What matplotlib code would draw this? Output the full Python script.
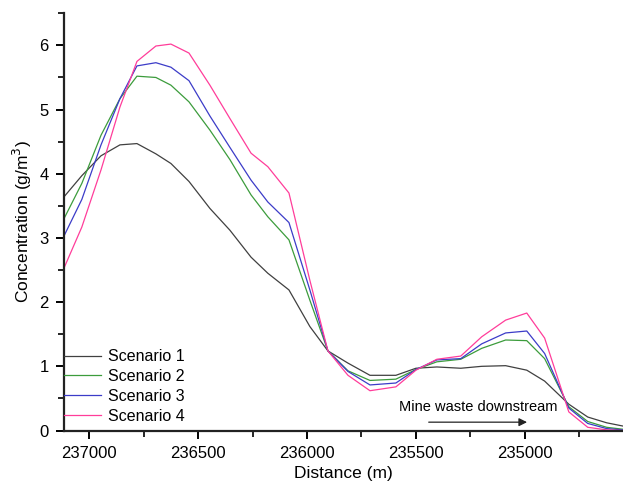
import matplotlib.pyplot as plt
from matplotlib.ticker import MultipleLocator

plt.rcParams['font.family'] = ['Liberation Sans', 'DejaVu Sans']

# distance along river (m)
dist = [237116, 237034, 236946, 236859, 236781, 236694, 236625, 236542, 236446,
        236354, 236257, 236180, 236083, 235987, 235904, 235812, 235711, 235592,
        235500, 235404, 235294, 235198, 235088, 234991, 234909, 234798, 234711,
        234624, 234550]

sc1 = [3.64, 3.97, 4.28, 4.45, 4.47, 4.31, 4.16, 3.88, 3.46, 3.12, 2.70, 2.45,
       2.19, 1.62, 1.24, 1.05, 0.86, 0.86, 0.97, 0.99, 0.97, 1.00, 1.01, 0.94,
       0.77, 0.41, 0.21, 0.12, 0.07]
sc2 = [3.30, 3.85, 4.60, 5.17, 5.52, 5.50, 5.38, 5.12, 4.68, 4.22, 3.67, 3.33,
       2.97, 2.03, 1.24, 0.93, 0.78, 0.80, 0.95, 1.07, 1.11, 1.28, 1.41, 1.40,
       1.12, 0.37, 0.14, 0.05, 0.02]
sc3 = [3.03, 3.60, 4.45, 5.17, 5.68, 5.73, 5.66, 5.45, 4.90, 4.41, 3.90, 3.56,
       3.24, 2.19, 1.24, 0.92, 0.71, 0.74, 0.95, 1.10, 1.12, 1.35, 1.52, 1.55,
       1.20, 0.35, 0.11, 0.03, 0.01]
sc4 = [2.53, 3.17, 4.06, 5.04, 5.75, 5.99, 6.02, 5.88, 5.38, 4.86, 4.32, 4.11,
       3.70, 2.34, 1.24, 0.86, 0.62, 0.68, 0.94, 1.11, 1.16, 1.46, 1.72, 1.83,
       1.44, 0.29, 0.05, 0.01, 0.00]

names = ['Scenario 1', 'Scenario 2', 'Scenario 3', 'Scenario 4']
colors = ['#404040', '#3c9c3c', '#3c3cc8', '#ff3d9a']

fig = plt.figure(figsize=(6.23, 4.88), dpi=100)
ax = fig.add_axes([0.1027, 0.1178, 0.897, 0.855])

for y, n, c in zip([sc1, sc2, sc3, sc4], names, colors):
    ax.plot(dist, y, color=c, lw=0.9, label=n)

ax.set_xlim(237116, 234550)
ax.set_ylim(0, 6.5)
ax.xaxis.set_major_locator(MultipleLocator(500))
ax.xaxis.set_minor_locator(MultipleLocator(250))
ax.yaxis.set_major_locator(MultipleLocator(1))
ax.yaxis.set_minor_locator(MultipleLocator(0.5))

for s in ['top', 'right']:
    ax.spines[s].set_visible(False)
for s in ['left', 'bottom']:
    ax.spines[s].set_linewidth(1.6)
    ax.spines[s].set_color('#222222')
ax.tick_params(which='major', length=6, width=1.4, labelsize=12, pad=5)
ax.tick_params(which='minor', length=4, width=1.2)

ax.set_xlabel('Distance (m)', fontsize=12.5)
ax.set_ylabel('Concentration (g/m$^3$)', fontsize=12.5)

ax.legend(loc='lower left', bbox_to_anchor=(-0.02, -0.01), frameon=False,
          fontsize=11.5, handlelength=2.3, handletextpad=0.45,
          labelspacing=0.3, borderaxespad=0.3)

ax.annotate('', xy=(234977, 0.13), xytext=(235454, 0.13),
            arrowprops=dict(arrowstyle='-|>', color='#222222', lw=0.9,
                            mutation_scale=12))
ax.text(235215, 0.36, 'Mine waste downstream', ha='center', va='center',
        fontsize=10.5)

fig.savefig('out.png', dpi=100)
